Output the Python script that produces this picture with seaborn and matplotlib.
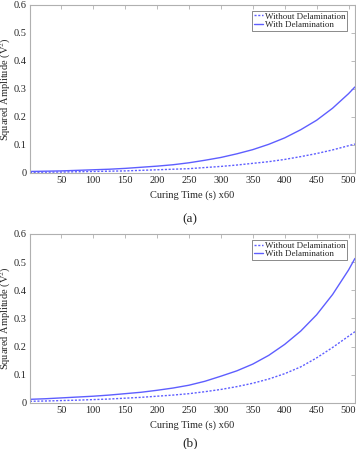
import numpy as np
import pandas as pd
import matplotlib
matplotlib.use('Agg')
import matplotlib.pyplot as plt
from matplotlib.ticker import FuncFormatter
import seaborn as sns

# Curing time samples (x60 s)
curing_time = [1, 25, 50, 75, 100, 125, 150, 175, 200, 225, 250, 275, 300,
               325, 350, 375, 400, 425, 450, 475, 500, 510]

# Panel (a)
a_without = [0.002, 0.0025, 0.003, 0.004, 0.005, 0.006, 0.007, 0.009, 0.011, 0.013, 0.015,
             0.019, 0.023, 0.028, 0.034, 0.040, 0.048, 0.058, 0.069, 0.082, 0.097, 0.103]
a_with = [0.005, 0.006, 0.007, 0.009, 0.011, 0.013, 0.016, 0.020, 0.024, 0.029, 0.036,
          0.045, 0.055, 0.068, 0.083, 0.102, 0.125, 0.154, 0.188, 0.231, 0.283, 0.307]

# Panel (b)
b_without = [0.006, 0.007, 0.0085, 0.010, 0.012, 0.014, 0.017, 0.020, 0.024, 0.028, 0.033,
             0.040, 0.048, 0.058, 0.070, 0.085, 0.104, 0.128, 0.160, 0.197, 0.237, 0.253]
b_with = [0.013, 0.015, 0.018, 0.021, 0.024, 0.028, 0.033, 0.038, 0.045, 0.053, 0.063,
          0.077, 0.095, 0.114, 0.138, 0.169, 0.208, 0.255, 0.313, 0.385, 0.472, 0.513]

series_names = ['Without Delamination', 'With Delamination']
panel_labels = ['(a)', '(b)']

sns.set_style('white')
plt.rcParams['font.family'] = ['Liberation Serif', 'DejaVu Serif']
plt.rcParams['mathtext.fontset'] = 'stix'

line_color = '#5e5eff'
edge_grey = '#b0b0b0'
text_col = '#262626'

fig = plt.figure(figsize=(3.56, 4.49), dpi=100)
ax_a = fig.add_axes([0.084, 0.615, 0.913, 0.374])
ax_b = fig.add_axes([0.084, 0.1025, 0.913, 0.3765])


def draw_panel(ax, without, with_):
    df = pd.DataFrame({
        'time': curing_time * 2,
        'amp': without + with_,
        'case': [series_names[0]] * len(curing_time) + [series_names[1]] * len(curing_time),
    })
    sns.lineplot(data=df, x='time', y='amp', hue='case', style='case',
                 palette=[line_color, line_color],
                 dashes={series_names[0]: (1.5, 1.2), series_names[1]: ''},
                 linewidth=1.0, ax=ax)
    ax.set_xlim(1, 510)
    ax.set_ylim(0, 0.6)
    ax.set_xticks(np.arange(50, 501, 50))
    ax.set_yticks(np.arange(0, 0.61, 0.1))
    ax.yaxis.set_major_formatter(FuncFormatter(lambda v, p: '0' if abs(v) < 1e-9 else f'{v:.1f}'))
    ax.tick_params(direction='in', length=3, width=0.6, color=edge_grey,
                   labelsize=7.5, labelcolor=text_col, top=True, right=True, pad=2.5)
    for sp in ax.spines.values():
        sp.set_color(edge_grey)
        sp.set_linewidth(0.8)
    ax.set_xlabel('Curing Time (s) x60', fontsize=7.5, color=text_col)
    ax.set_ylabel('Squared Amplitude (V$^{2}$)', fontsize=7.5, color=text_col)
    ax.xaxis.set_label_coords(0.5, -0.105)
    ax.yaxis.set_label_coords(-0.052, 0.5)
    leg = ax.legend(loc='upper right', bbox_to_anchor=(0.9745, 0.964), borderaxespad=0,
                    fontsize=6.5, handlelength=1.1, handletextpad=0.15,
                    borderpad=0.15, labelspacing=0.05, frameon=True, fancybox=False)
    leg.get_frame().set_edgecolor('#555555')
    leg.get_frame().set_linewidth(0.6)
    for t in leg.get_texts():
        t.set_color(text_col)


draw_panel(ax_a, a_without, a_with)
draw_panel(ax_b, b_without, b_with)

fig.text(189.5 / 356, 1 - 219 / 449, panel_labels[0], ha='center', va='center',
         fontsize=9.5, color=text_col)
fig.text(190 / 356, 1 - 443 / 449, panel_labels[1], ha='center', va='center',
         fontsize=9.5, color=text_col)

fig.savefig('out.png', dpi=100)
